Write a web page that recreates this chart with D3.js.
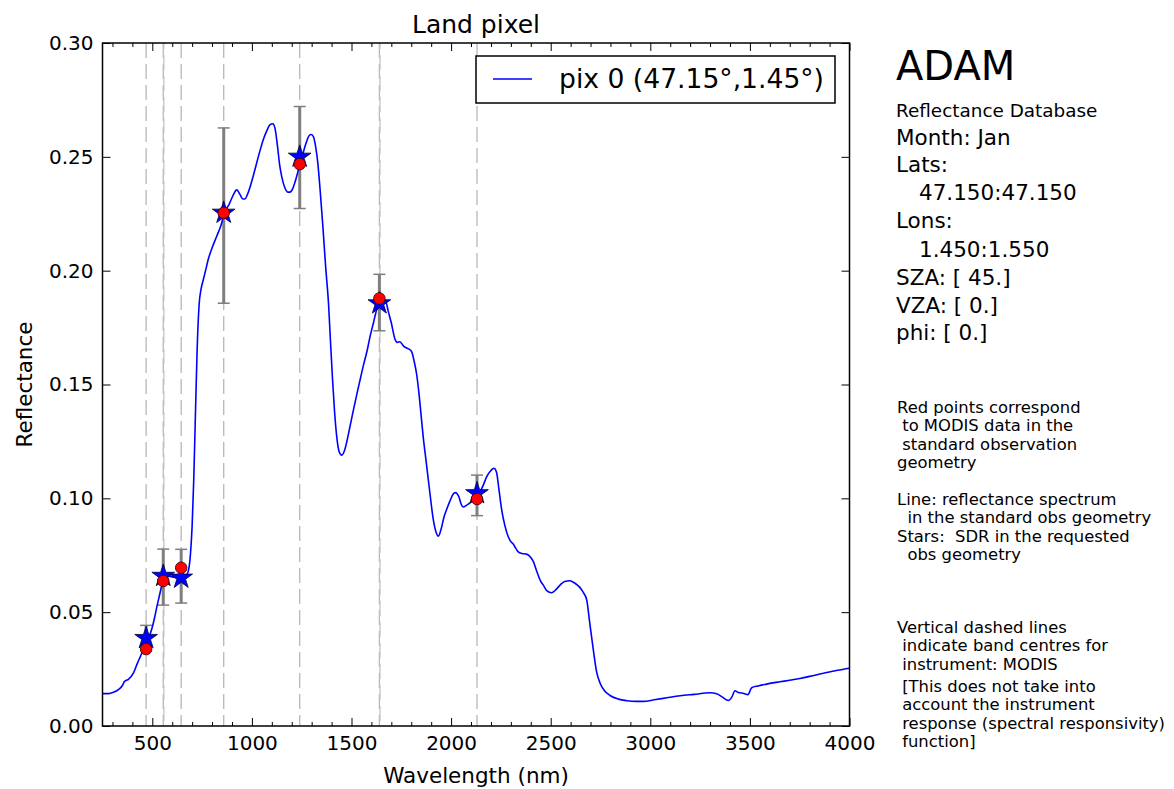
<!DOCTYPE html>
<html>
<head>
<meta charset="utf-8">
<script src="https://cdn.jsdelivr.net/npm/d3@7"></script>
<style>
  body { margin: 0; background: #fff; }
  text { font-family: "DejaVu Sans", sans-serif; fill: #000; }
</style>
</head>
<body>
<div id="chart"></div>
<script>
// spectrum (nm, reflectance)
const wavelengths = [250, 280, 305, 330, 350, 360, 368, 380, 405, 425, 440, 455, 469, 485, 497, 510, 522, 535, 547, 560, 572, 600, 622, 650, 673, 685, 692, 700, 708, 716, 725, 735, 745, 756, 770, 781, 800, 823, 845, 865, 885, 905, 924, 940, 955, 965, 980, 1000, 1020, 1040, 1057, 1075, 1090, 1105, 1116, 1128, 1140, 1150, 1165, 1180, 1191, 1205, 1215, 1225, 1240, 1255, 1270, 1285, 1297, 1308, 1320, 1330, 1342, 1355, 1370, 1385, 1395, 1405, 1415, 1426, 1438, 1451, 1465, 1478, 1492, 1510, 1530, 1543, 1560, 1580, 1593, 1610, 1626, 1643, 1660, 1672, 1685, 1700, 1718, 1730, 1743, 1760, 1777, 1790, 1802, 1815, 1827, 1840, 1850, 1860, 1875, 1894, 1910, 1925, 1936, 1950, 1965, 1978, 1995, 2010, 2020, 2030, 2040, 2050, 2061, 2075, 2095, 2115, 2137, 2160, 2179, 2200, 2215, 2228, 2240, 2254, 2270, 2287, 2300, 2312, 2325, 2337, 2355, 2379, 2400, 2413, 2430, 2450, 2463, 2480, 2505, 2525, 2547, 2570, 2597, 2620, 2645, 2665, 2681, 2695, 2714, 2730, 2748, 2770, 2798, 2840, 2882, 2930, 2965, 3020, 3083, 3150, 3220, 3300, 3333, 3360, 3392, 3410, 3425, 3440, 3470, 3490, 3509, 3540, 3584, 3650, 3700, 3751, 3800, 3870, 3940, 4000];
const reflectance = [0.0142, 0.0142, 0.0148, 0.016, 0.0178, 0.0195, 0.02, 0.0205, 0.0232, 0.0275, 0.0305, 0.0335, 0.0365, 0.0395, 0.0425, 0.047, 0.052, 0.057, 0.0615, 0.0648, 0.066, 0.0655, 0.0652, 0.0655, 0.0665, 0.07, 0.076, 0.088, 0.108, 0.135, 0.165, 0.185, 0.192, 0.196, 0.201, 0.205, 0.21, 0.215, 0.22, 0.226, 0.229, 0.233, 0.2355, 0.2335, 0.2315, 0.2315, 0.234, 0.2395, 0.246, 0.2525, 0.2575, 0.2615, 0.264, 0.2645, 0.2625, 0.255, 0.246, 0.2412, 0.2365, 0.2345, 0.2345, 0.236, 0.2385, 0.2415, 0.2465, 0.251, 0.2555, 0.259, 0.2598, 0.259, 0.2545, 0.248, 0.236, 0.221, 0.202, 0.185, 0.168, 0.152, 0.138, 0.127, 0.1205, 0.119, 0.121, 0.1255, 0.1314, 0.139, 0.147, 0.152, 0.1585, 0.1655, 0.171, 0.177, 0.1827, 0.1863, 0.1875, 0.1865, 0.182, 0.177, 0.17, 0.1685, 0.1688, 0.167, 0.166, 0.1655, 0.1644, 0.16, 0.1545, 0.145, 0.136, 0.127, 0.116, 0.102, 0.091, 0.085, 0.0834, 0.0865, 0.092, 0.0952, 0.099, 0.1018, 0.1025, 0.102, 0.1005, 0.0975, 0.0962, 0.0968, 0.098, 0.0995, 0.1014, 0.1055, 0.1095, 0.1122, 0.1132, 0.1115, 0.104, 0.0949, 0.088, 0.0831, 0.081, 0.0799, 0.078, 0.0765, 0.0758, 0.0755, 0.074, 0.0722, 0.068, 0.0635, 0.0619, 0.0595, 0.0585, 0.0598, 0.0619, 0.0635, 0.0638, 0.0628, 0.061, 0.0585, 0.0553, 0.046, 0.0334, 0.024, 0.0188, 0.0155, 0.0134, 0.0118, 0.0111, 0.0108, 0.0108, 0.0115, 0.0124, 0.0133, 0.0139, 0.0146, 0.0142, 0.0128, 0.0112, 0.0128, 0.0155, 0.0148, 0.0143, 0.0138, 0.0168, 0.0176, 0.0184, 0.0194, 0.0201, 0.0209, 0.0218, 0.0232, 0.0245, 0.0254];

// MODIS band centres and the points on them
const bandCentres = [469, 555, 645, 858.5, 1240, 1640, 2130];
const modisRed = [0.0338, 0.0637, 0.0695, 0.2254, 0.2468, 0.1878, 0.0997];
const sdrStars = [0.0386, 0.0659, 0.0651, 0.2254, 0.2500, 0.1856, 0.1022];
const errCentre = [0.0386, 0.0654, 0.0658, 0.2242, 0.2497, 0.1860, 0.1013];
const errHalf = [0.0056, 0.0123, 0.0118, 0.0385, 0.0224, 0.0124, 0.0089];
// bands whose guide line looks doubled (solid) in the picture
const doubledBands = [555, 1640];

const xTicks = [500, 1000, 1500, 2000, 2500, 3000, 3500, 4000];
const yTicks = [0, 0.05, 0.10, 0.15, 0.20, 0.25, 0.30];

const legendLabel = "pix 0 (47.15°,1.45°)";
const infoLines = [
    ["Reflectance Database", 0, 117, 18.4],
    ["Month: Jan", 0, 145, 21.5],
    ["Lats:", 0, 172, 21.5],
    ["47.150:47.150", 23, 200, 21.5],
    ["Lons:", 0, 228, 21.5],
    ["1.450:1.550", 23, 257, 21.5],
    ["SZA: [ 45.]", 0, 285, 21.5],
    ["VZA: [ 0.]", 0, 313, 21.5],
    ["phi: [ 0.]", 0, 340, 21.5]
];
const noteLines = [
    "Red points correspond", " to MODIS data in the", " standard observation", "geometry", "",
    "Line: reflectance spectrum", "  in the standard obs geometry", "Stars:  SDR in the requested", "  obs geometry"
];
const noteLines2 = [
    "Vertical dashed lines", " indicate band centres for", " instrument: MODIS"
];
const noteLines3 = [
    " [This does not take into", " account the instrument", " response (spectral responsivity)", " function]"
];

const svgWidth = 1174;
const svgHeight = 789;
const plotLeft = 102.5, plotRight = 849.5, plotTop = 43, plotBottom = 726;

const svg = d3.select("#chart")
    .append("svg")
    .attr("width", svgWidth)
    .attr("height", svgHeight)
    .style("background", "#fff");

const x = d3.scaleLinear().domain([250, 4000]).range([plotLeft, plotRight]);
const y = d3.scaleLinear().domain([0, 0.3]).range([plotBottom, plotTop]);

const spectrum = wavelengths.map((w, i) => ({w: w, r: reflectance[i]}));
const points = bandCentres.map((b, i) => ({b: b, red: modisRed[i], star: sdrStars[i], c: errCentre[i], e: errHalf[i]}));

const plot = svg.append("g");

// band centre guide lines
plot.selectAll("line.band")
    .data(bandCentres)
    .enter()
    .append("line")
    .attr("class", "band")
    .attr("x1", d => x(d)).attr("x2", d => x(d))
    .attr("y1", plotTop).attr("y2", plotBottom)
    .attr("stroke", "#b8b8b8")
    .attr("stroke-width", 1.3)
    .attr("stroke-dasharray", "15,6");

plot.selectAll("line.band2")
    .data(doubledBands)
    .enter()
    .append("line")
    .attr("x1", d => x(d) + 0.6).attr("x2", d => x(d) + 0.6)
    .attr("y1", plotTop).attr("y2", plotBottom)
    .attr("stroke", "#c4c4c4")
    .attr("stroke-width", 1.3)
    .attr("stroke-dasharray", "15,6")
    .attr("stroke-dashoffset", 9);

// error bars
const eb = plot.selectAll("g.err").data(points).enter().append("g");
eb.append("line")
    .attr("x1", d => x(d.b)).attr("x2", d => x(d.b))
    .attr("y1", d => y(d.c - d.e)).attr("y2", d => y(d.c + d.e))
    .attr("stroke", "#7f7f7f").attr("stroke-width", 3);
[-1, 1].forEach(s => {
    eb.append("line")
        .attr("x1", d => x(d.b) - 6).attr("x2", d => x(d.b) + 6)
        .attr("y1", d => y(d.c + s * d.e)).attr("y2", d => y(d.c + s * d.e))
        .attr("stroke", "#7f7f7f").attr("stroke-width", 1.5);
});

// spectrum line
const line = d3.line()
    .x(d => x(d.w))
    .y(d => y(d.r))
    .curve(d3.curveMonotoneX);

plot.append("path")
    .datum(spectrum)
    .attr("d", line)
    .attr("fill", "none")
    .attr("stroke", "#0000ff")
    .attr("stroke-width", 1.6);

// stars
const star = d3.symbol().type(d3.symbolStar).size(160);
plot.selectAll("path.star")
    .data(points)
    .enter()
    .append("path")
    .attr("d", star)
    .attr("transform", d => `translate(${x(d.b)},${y(d.star)})`)
    .attr("fill", "#0000ff")
    .attr("stroke", "#000033")
    .attr("stroke-width", 0.8);

// red points
plot.selectAll("circle.red")
    .data(points)
    .enter()
    .append("circle")
    .attr("cx", d => x(d.b))
    .attr("cy", d => y(d.red))
    .attr("r", 5.8)
    .attr("fill", "#ff0000")
    .attr("stroke", "#330000")
    .attr("stroke-width", 0.8);

// axes, ticks pointing inwards on all sides
const minorX = d3.range(300, 4000, 100).filter(v => v % 500 !== 0);

function styleAxis(g) {
    g.select(".domain").remove();
    g.selectAll(".tick line").attr("stroke", "#000").attr("stroke-width", 1);
    g.selectAll(".tick text").style("font-size", "20px").style("font-family", "DejaVu Sans").attr("fill", "#000");
}

svg.append("g")
    .attr("transform", `translate(0,${plotBottom})`)
    .call(d3.axisBottom(x).tickValues(xTicks).tickSize(-8).tickPadding(10).tickFormat(d3.format("d")))
    .call(styleAxis);
svg.append("g")
    .attr("transform", `translate(0,${plotBottom})`)
    .call(d3.axisBottom(x).tickValues(minorX).tickSize(-4).tickFormat(""))
    .call(styleAxis);
svg.append("g")
    .attr("transform", `translate(0,${plotTop})`)
    .call(d3.axisTop(x).tickValues(xTicks).tickSize(-8).tickFormat(""))
    .call(styleAxis);
svg.append("g")
    .attr("transform", `translate(0,${plotTop})`)
    .call(d3.axisTop(x).tickValues(minorX).tickSize(-4).tickFormat(""))
    .call(styleAxis);
svg.append("g")
    .attr("transform", `translate(${plotLeft},0)`)
    .call(d3.axisLeft(y).tickValues(yTicks).tickSize(-8).tickPadding(9).tickFormat(d3.format(".2f")))
    .call(styleAxis);
svg.append("g")
    .attr("transform", `translate(${plotRight},0)`)
    .call(d3.axisRight(y).tickValues(yTicks).tickSize(-8).tickFormat(""))
    .call(styleAxis);

// frame
svg.append("rect")
    .attr("x", plotLeft).attr("y", plotTop)
    .attr("width", plotRight - plotLeft).attr("height", plotBottom - plotTop)
    .attr("fill", "none")
    .attr("stroke", "#000")
    .attr("stroke-width", 1.5);

// title and axis labels
svg.append("text")
    .attr("x", (plotLeft + plotRight) / 2).attr("y", 33)
    .attr("text-anchor", "middle")
    .style("font-size", "25px")
    .text("Land pixel");

svg.append("text")
    .attr("x", (plotLeft + plotRight) / 2).attr("y", 783)
    .attr("text-anchor", "middle")
    .style("font-size", "21.5px")
    .text("Wavelength (nm)");

svg.append("text")
    .attr("transform", `translate(32,${(plotTop + plotBottom) / 2}) rotate(-90)`)
    .attr("text-anchor", "middle")
    .style("font-size", "21.5px")
    .text("Reflectance");

// legend
const legend = svg.append("g");
legend.append("rect")
    .attr("x", 476).attr("y", 56)
    .attr("width", 359).attr("height", 47)
    .attr("fill", "#fff")
    .attr("stroke", "#000")
    .attr("stroke-width", 1.5);
legend.append("line")
    .attr("x1", 493).attr("x2", 532)
    .attr("y1", 79).attr("y2", 79)
    .attr("stroke", "#0000ff").attr("stroke-width", 1.6);
legend.append("text")
    .attr("x", 559).attr("y", 88)
    .style("font-size", "26.6px")
    .text(legendLabel);

// side panel text
const side = svg.append("g").attr("transform", "translate(896,0)");
side.append("text")
    .attr("x", 0).attr("y", 80)
    .style("font-size", "40px")
    .text("ADAM");

side.selectAll("text.info")
    .data(infoLines)
    .enter()
    .append("text")
    .attr("x", d => d[1])
    .attr("y", d => d[2])
    .style("font-size", d => d[3] + "px")
    .text(d => d[0]);

function noteBlock(lines, y0) {
    side.append("g").selectAll("text")
        .data(lines)
        .enter()
        .append("text")
        .attr("x", 1)
        .attr("y", (d, i) => y0 + i * 18.4)
        .attr("xml:space", "preserve")
        .style("white-space", "pre")
        .style("font-size", "16.4px")
        .text(d => d);
}
noteBlock(noteLines, 413);
noteBlock(noteLines2, 633);
noteBlock(noteLines3, 692);
</script>
</body>
</html>
